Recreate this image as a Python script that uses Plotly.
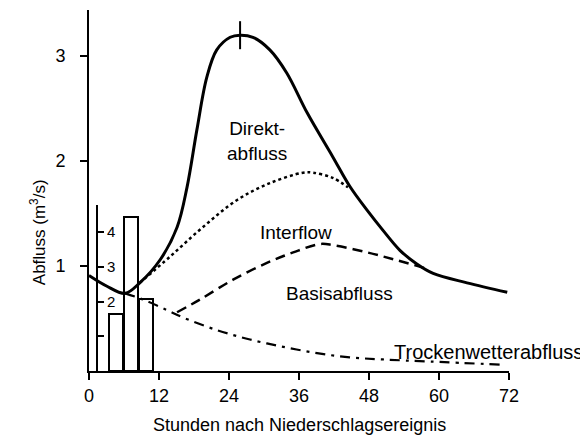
import plotly.graph_objects as go

# --- data ---
total_t = [0, 3, 6.2, 8.7, 12.2, 15.1, 16.8, 18.5, 20.2, 21.9, 24.2, 25.9, 28.1, 31.0, 33.9, 37.4, 41.8, 44.7, 47.7, 50.4, 53.3, 56.2, 59.0, 64.8, 71.7]
total_q = [0.91, 0.81, 0.74, 0.84, 1.06, 1.37, 1.75, 2.30, 2.80, 3.06, 3.18, 3.20, 3.18, 3.06, 2.84, 2.46, 2.04, 1.76, 1.53, 1.34, 1.15, 1.02, 0.93, 0.84, 0.75]

inter_t = [8.7, 13.9, 19.5, 25.4, 31.0, 36.7, 38.4, 41.8, 44.4]
inter_q = [0.84, 1.09, 1.37, 1.63, 1.79, 1.89, 1.89, 1.84, 1.75]

base_t = [15.1, 19.0, 24.7, 30.5, 35.0, 39.6, 41.8, 47.7, 52.5, 57.6]
base_q = [0.56, 0.68, 0.87, 1.03, 1.13, 1.21, 1.20, 1.13, 1.06, 0.98]

dry_t = [6.2, 9.3, 13.4, 16.1, 21.9, 27.6, 33.3, 39.1, 44.7, 50.4, 58.5, 71.0]
dry_q = [0.74, 0.68, 0.58, 0.51, 0.39, 0.30, 0.23, 0.17, 0.13, 0.11, 0.09, 0.06]

rain_t = [4.6, 7.2, 9.8]
rain_mm = [1.64, 4.44, 2.07]

peak_t = [25.9]
peak_q = [3.20]

x_ticks = [0, 12, 24, 36, 48, 60, 72]
y_ticks = [1, 2, 3]
rain_ticks = [1, 2, 3, 4]
rain_ticktext = ["", "2", "3", "4"]

FONT = "Liberation Sans, Arial, sans-serif"

fig = go.Figure()

fig.add_trace(go.Bar(x=rain_t, y=rain_mm, width=2.5, yaxis="y2",
                     marker=dict(color="rgba(0,0,0,0)", line=dict(color="black", width=2)),
                     showlegend=False))

fig.add_trace(go.Scatter(x=dry_t, y=dry_q, mode="lines", line=dict(color="black", width=2.2, dash="10px,6px,3px,6px", shape="spline"), showlegend=False))
fig.add_trace(go.Scatter(x=base_t, y=base_q, mode="lines", line=dict(color="black", width=2.5, dash="10px,6px", shape="spline"), showlegend=False))
fig.add_trace(go.Scatter(x=inter_t, y=inter_q, mode="lines", line=dict(color="black", width=2.5, dash="dot", shape="spline"), showlegend=False))
fig.add_trace(go.Scatter(x=total_t, y=total_q, mode="lines", line=dict(color="black", width=3, shape="spline", smoothing=1.0), showlegend=False))
fig.add_trace(go.Scatter(x=peak_t, y=peak_q, mode="markers",
                         marker=dict(symbol="line-ns-open", size=20, color="black", line=dict(color="black", width=2)),
                         showlegend=False))

fig.update_layout(
    width=580, height=433,
    margin=dict(l=81, r=79, t=2, b=70),
    plot_bgcolor="rgba(0,0,0,0)", paper_bgcolor="white",
    font=dict(family=FONT, size=18, color="black"),
    xaxis=dict(range=[0, 72], tickvals=x_ticks, showgrid=False, zeroline=False,
               showline=True, linecolor="black", linewidth=2, ticks="outside",
               ticklen=7, tickwidth=2, tickcolor="black", tickfont=dict(size=18)),
    yaxis=dict(range=[0, 3.44], tickvals=y_ticks, showgrid=False, zeroline=False,
               showline=True, linecolor="black", linewidth=2, ticks="outside",
               ticklen=7, tickwidth=2, tickcolor="black", tickfont=dict(size=18),
               ticklabelstandoff=11),
    yaxis2=dict(domain=[0, 0.46], range=[0, 4.78], anchor="free", position=0.019,
                side="right", tickvals=rain_ticks, ticktext=rain_ticktext,
                showgrid=False, zeroline=False, showline=True, linecolor="black",
                linewidth=2, ticks="outside", ticklen=6, tickwidth=2, tickcolor="black",
                tickfont=dict(size=15)),
    bargap=0,
)

annotations = [
    dict(x=28.8, y=2.19, text="Direkt-<br>abfluss", xref="x", yref="y", showarrow=False, font=dict(size=19)),
    dict(x=35.5, y=1.32, text="Interflow", xref="x", yref="y", showarrow=False, font=dict(size=19)),
    dict(x=43.0, y=0.74, text="Basisabfluss", xref="x", yref="y", showarrow=False, font=dict(size=19)),
    dict(x=68.5, y=0.18, text="Trockenwetterabfluss", xref="x", yref="y", showarrow=False, font=dict(size=20)),
    dict(x=7.5, y=4.84, text="mm", xref="x", yref="y2", showarrow=False, font=dict(size=19)),
    dict(x=-0.152, y=0.385, text="Abfluss (m<sup>3</sup>/s)", xref="paper", yref="paper",
         textangle=-90, showarrow=False, font=dict(size=17)),
    dict(x=0.5, y=-0.15, text="Stunden nach Niederschlagsereignis", xref="paper", yref="paper",
         showarrow=False, font=dict(size=18), yanchor="middle"),
]
fig.update_layout(annotations=annotations)

fig.write_html("out.html")
